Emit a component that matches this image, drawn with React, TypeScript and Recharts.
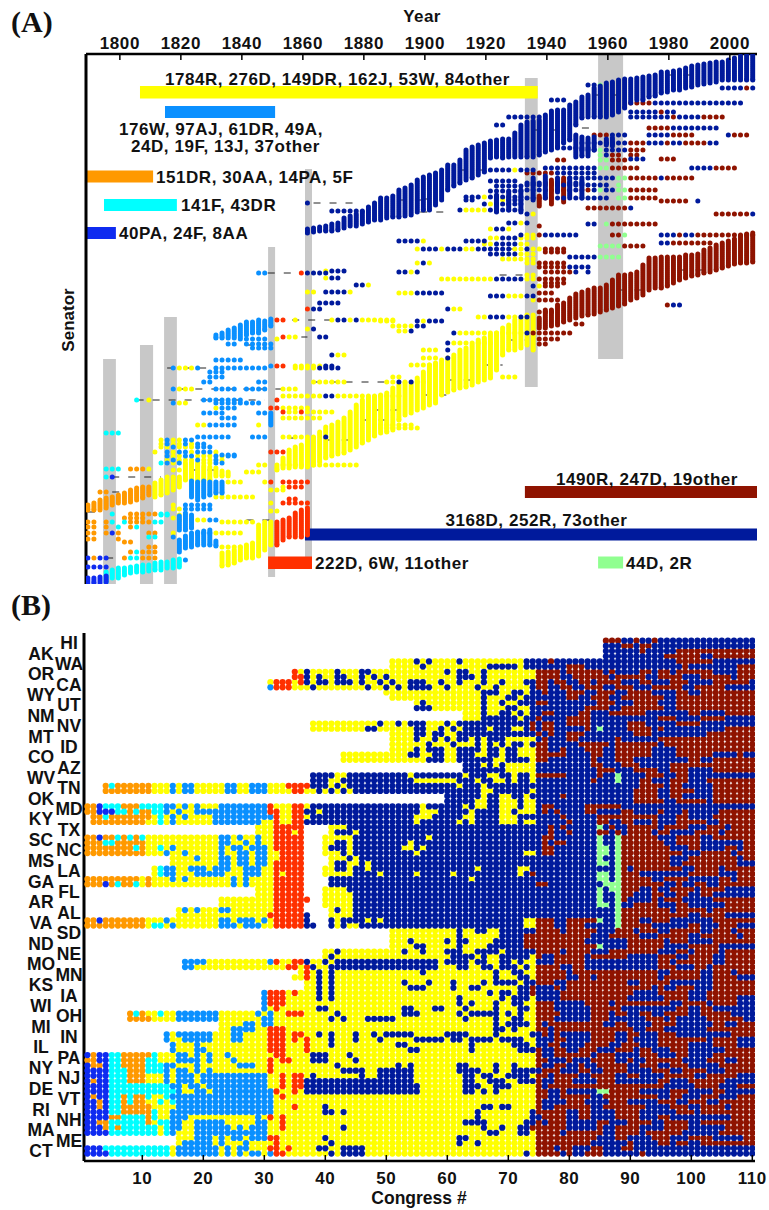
import React from "react";
import { ScatterChart, Scatter, XAxis, YAxis, ReferenceArea, ReferenceLine } from "recharts";

const FONT = "'Liberation Sans', Arial, sans-serif";
const COLORS: Record<string, string> = {
  o: "#ff9900", c: "#00ffff", P: "#0f2bf0", w: "#0a90ff", y: "#ffff00",
  r: "#ff3000", d: "#001a9c", b: "#8f1300", g: "#90ff90",
};
const ORDER_A = ["y", "w", "o", "c", "P", "r", "g", "b", "d"];
const ORDER_B = ["y", "o", "c", "w", "P", "r", "g", "b", "d"];

const yearTicks = [1800, 1820, 1840, 1860, 1880, 1900, 1920, 1940, 1960, 1980, 2000];
const congressTicks = [10, 20, 30, 40, 50, 60, 70, 80, 90, 100, 110];

// Panel B: states, top to bottom (two rows each)
const states = ["HI","AK","WA","OR","CA","WY","UT","NM","NV","MT","ID","CO","AZ","WV","TN","OK","MD","KY","TX","SC","NC","MS","LA","GA","FL","AR","AL","VA","SD","ND","NE","MO","MN","KS","IA","WI","OH","MI","IN","IL","PA","NY","NJ","DE","VT","RI","NH","MA","ME","CT"];

// Each token: party letter + first congress of that party's run; "." is an empty seat
const seatRows = [
"b86 d89 b91 d92 b94 d95",
"d86 b89 d91 b92 d94",
"d86 b92 d93 b98",
"d86 b96 d102 b104",
"y51 d55 y56 d57 y58 d62 y63 d73 b77 d78 b98 d104",
"y51 d56 y57 d67 y72 d73 b80 d83 b99 d100 b108",
"r35 y36 d37 y38 d42 y43 d46 y48 d60 y61 d62 y64 d66 y67 b75 d79 b80 d86 b87 d88 b92 d94 b95 d97 b98 d104 b108",
"r35 d37 y38 d39 y40 d42 y44 d46 y47 d48 y49 d50 y51 d62 y65 d66 y67 b75 d79 b81 d87 b88 d93 b95 d99 b102 d107 b108",
"y31 r32 y35 r36 d37 y38 d39 y41 d42 y45 d46 y47 d49 y50 d51 y52 d54 y57 d59 y60 d62 y63 d66 y67 d69 y70 d73 b75 d77 b78 d80 b82 d84 b85 d89 b92 d94 b97 d100 b104 d110",
"w31 r32 y35 d38 y39 d47 y48 d50 y51 d52 y53 d54 y58 d60 y61 d65 y66 d68 y69 d74 b75 d77 b79 d81 b83 d86 b88 d91 b94 d99 b101 d106",
"y50 d66 y69 d71 y73 d74 b76 d77 b80 d83 b85 d88 b90 d94 b98 d100 b102",
"y51 d66 y67 d70 y72 d73 b80 d82 b84 d87 b89 d96 b98",
"y55 d56 y57 d66 y67 d69 y70 d72 b75 d77 b85 d88 b91 d95 b98",
"d55 y58 d66 y67 d70 y72 d74 b83 d87 b89 d96 b98",
"y63 d66 y67 d69 y71 d72 y73 d74 b76 d78 b82 d84 b87 d93 b100 d102 b106",
"y63 d66 y72 d73 b75 d76 b80 d84 b95 d98 b102 d106",
"y38 d49 y50 d52 y53 d54 y57 d60 y61 d62 b74 d75 b76 d78 b80 d84 b90 d93 b98 d102",
"y38 d47 y49 d55 y57 d59 y60 d61 y62 d63 y67 d68 y71 d73 b74 d75 b76 d78 b83 d84 g85 d86 b90 d94 b95 d96 b106",
"y51 d55 y57 d58 y60 d62 b75 d76 b77 d78 b80 d83 b91 d94 b103",
"y51 d55 y56 d58 y59 d60 y61 d62 y64 d65 y66 d67 y70 d75 b76 d77 b80 d82 b88 d89 b95",
"y51 d57 y58 d61 y62 d65 y66 d67 y68 d69 y70 d71 y73 d74 b75 d77 b82 d87 b88 d95 b96",
"y51 d55 y56 d57 y60 d62 y66 d67 y69 d70 y72 d75 b75 d77 b79 d80 b83 d86 b88 d94 b98",
"y43 d54 y56 d58 y60 d62 y65 d67 y69 d70 y72 b75 d78 b78 d80 b84 d86 b88 d94 b98 d104 b108 d109",
"y43 d57 y60 d62 y68 d70 y74 b75 d77 b84 d85 b88 d91 b100 d102 b104",
"d63 y66 d67 y68 d69 y70 d75 b84 d86 b89 d92 b97",
"d63 y70 d75 b85 d88 b91 d95 b97 d100 b104",
"d38 y42 d44 y54 d55 y63 d64 y67 d69 y71 d72 y74 b75 d80 b85 d86 g88 d89 b93 d96 b98 d100",
"d38 y41 d43 y55 d62 y65 d66 y68 d70 y71 d72 y74 d75 b84 d85 g88 d89 b92 d94 b97 d100 b103",
"o4 c5 o6 y12 w15 y16 w17 y19 w24 y26 w28 y31 r34 d38 y41 d42 y43 d44 y62 d63 y66 d67 b92 d96 b97 d99 b104",
"o4 y12 w15 y16 w17 y19 w24 y26 w28 y31 r35 y37 d39 y40 d41 y42 d43 y44 d45 y66 d68 y74 d75 b91 d95 b97 d101 b104",
"d60 y66 d67 y69 d71 y73 d74 b79 d80 b91 d95 b97 d99 b104",
"d60 y65 d67 y69 d72 y73 d75 b91 d96 b98 d103 b104",
"o1 P3 c4 o7 c10 w14 y16 w17 y18 w19 y20 w23 r31 y32 r35 y37 d38 y56 d57 y63 d64 y65 d67 y69 d72 y73 d75 b76 d78 b83 d89",
"o1 P3 c6 o8 c9 o10 c12 w14 y15 w16 y17 w19 r31 y33 r35 d37 y39 d40 y56 d59 y64 d65 y69 d71 y72 d75 b76 d77 b78 d79 b83 d85 b89 d91 b95 d96 b99 d100 b105",
"o2 c4 o5 y12 c13 y14 w15 y16 w17 y18 w22 r32 y33 r35 y37 d38 y55 d58 y63 d65 y69 d72 b79 d80 b85 d95 b98 d100 b104",
"o2 y11 c13 y14 w15 y16 w22 y30 r32 y33 r35 d37 y55 d56 y62 d63 y64 d65 y69 d72 y73 d75 b80 d81 b85 d87 b89 d91 b94 d95 b98 d103 b105",
"y29 r32 .37 y41 d44 b77 d78 b79 d80 g85 d86 b87 d88 b90 d95 b96 d100 b103 d106 b107",
"y29 r32 y35 r36 .37 y41 d42 y45 d46 b77 d78 b80 d81 b85 d87 b88 d89 b90 d94 b95 d97 b101 d105 b106",
"o1 P3 o4 c6 o7 c8 o9 c10 y11 w23 y25 w26 y27 w29 y30 r32 .37 y40 d45 y57 d58 b76 d78 g85 d86 g88 b89 d95 b98 d102 b104",
"o1 c4 o6 y11 w23 y25 w27 y28 w29 y30 r32 .37 y40 d42 y44 d45 y54 d55 b76 d77 b78 d80 g85 d86 g88 b89 d96 b98 d102 b109",
"o1 c9 o10 y11 c13 y14 w15 y16 w23 y24 w25 y27 w28 y31 r32 .37 y40 d41 y44 d45 y53 d55 y56 d57 b76 d78 g85 d87 g88 b89 d97 b100 d102 b106 d108 b109",
"o1 y11 w14 y15 w17 y18 w23 y24 w26 y28 w29 y31 r33 .37 y40 d43 y44 d45 y55 d56 y73 d75 b76 d78 g85 d87 g88 b89 d99 b102 d107 b108",
"y15 w19 y20 w23 y25 w26 y28 w29 y31 r33 .37 y41 d44 y45 d46 g85 d86 g88 b89 d97 b100 d108 b109",
"y15 w23 y25 w26 y28 w29 y31 r32 y33 r33 .37 y41 d42 y44 d46 y47 d48 g85 d87 g88 b89 d97 b99 d108",
"y12 c13 w14 y16 w18 y19 w19 y21 w22 y24 w24 y25 w27 y28 w28 y30 r32 y33 r33 .37 y40 d42 y44 d45 y47 d48 y65 d66 y72 d74 g88 b89 d90 b91 d99 b101 d105 b106",
"y12 c13 w14 y16 w19 y22 w22 y24 w27 y30 r32 y33 r34 .37 y40 d45 y49 d50 y55 d56 y61 d62 y72 d73 b74 d75 g85 d87 g88 b89 d92 b100 d105 b108",
"o1 y10 o11 y12 w15 y16 w17 y18 w25 y26 w27 y28 r32 .37 d41 y64 d65 g85 d87 g88 b89 d94 b96 d100 b105 d107 b108",
"o1 P4 o5 c6 o7 c9 y10 o11 y12 w25 y26 w27 y28 r32 .37 d41 b75 d77 g86 g88 b89 d96 b98 d99 b101 d103 b105",
"y29 r32 .37 y40 d44 g85 d86 g87 b89 d92 b94 d95 b97 d101 b102 d106",
"y29 r32 .37 y40 d45 g85 d86 g88 b89 d91 b94 d96 b98 d100 b102 d104",
"y23 r32 .37 r37 .38 y40 d45 g85 d86 g88 b89 d90 b94 d95 b96 d99 b104",
"y23 r32 .37 y40 d45 g85 d87 g88 d89 b91 d95 b98 d100 b106",
"y16 w17 y18 w19 y20 w23 y25 r32 .37 y41 d42 y43 d45 g88 b89 d97 b98 d103 b104",
"y16 r31 y32 r32 d37 .38 y41 d45 g88 b89 d100 b102 d106",
"o1 P3 o4 y11 w14 y15 w23 y25 w26 y29 w30 y31 r32 d37 .38 d41 y42 d43 y47 d48 y49 d50 y73 b75 d78 b80 g85 d86 g88 b89 d92 b94 d97 b104",
"o1 y11 c12 y14 w15 y16 w23 y26 w27 y29 w29 y30 r32 d37 .39 d41 y42 d43 y44 d46 y73 b75 d78 b80 d83 g88 b89 d94 b100 d102 b105 d108",
"y51 d62 y63 d65 y67 d69 b75 d79 b80 d85 b88 d91 b92 d95 b97 d102 b104 d107 b108",
"y51 d62 y63 d69 b73 b78 d84 b87 d92 b95 d100 b102 d108 b109",
"y51 d54 y55 d60 y61 d62 y64 d68 b73 d83 b90 d96 b97 d100 b104",
"y51 d55 y57 d62 y63 d67 b73 d85 g85 d86 b90 d96 b100 d105",
"y40 d42 y43 d53 y54 d56 y57 d60 y63 d65 y69 d70 b75 d79 b80 d84 b87 d95 b98 d100 b101 d105 b106",
"y40 d41 y42 d61 y65 d66 y67 d69 y74 b75 d76 b78 d83 b84 d90 b95 d98 b100 d104 b106",
"w17 y21 w31 r32 y33 r35 d37 y38 d40 y41 d42 y59 d60 y64 d65 y67 d69 y71 d72 y73 d75 b78 d83 b95 d97 b98 d104 b106",
"w17 y19 r34 y36 r37 d38 y39 d41 d42 y59 d62 y64 d66 y68 d69 y72 d73 y74 b75 d79 b81 d83 b95 d98 b101 d103 b104",
"y36 r37 y38 d39 y40 d41 y42 d56 y57 d68 y69 d71 y73 b75 d80 b81 d95 b97 d102 b104 d107 b108",
"y35 r37 y38 d39 y40 d41 y42 d68 y69 d72 y74 b75 d80 b82 d84 b85 d95 b96 d102 b104 d108",
"y37 d39 y40 d41 y42 d53 y54 d57 y58 d61 y62 d66 y67 d68 y72 d73 b75 d78 b80 d90 b92 d97 b101 d101 b104",
"y37 d39 y40 d41 y42 d54 y57 d61 y62 d64 y66 d72 b74 d75 b78 d79 b80 d94 b95 d96 b98 d101 b104",
"w30 r31 y34 r35 y36 d39 y40 d41 y42 d67 y68 d69 y71 d72 b74 d75 b79 d91 b95 d100 b103",
"w30 r31 y34 d39 y40 d41 y42 d62 y63 d69 y70 d71 y74 d75 b79 d90 b96 d100 b103 d108",
"w30 r31 y34 d62 y63 d64 y65 d68 y69 d71 y73 b75 d78 b83 d87 b88 d97 b99 d103 b104 d108",
"w30 y31 r32 y33 d39 y41 d53 y55 d58 y60 d63 y64 d68 y69 d72 y74 b75 d78 b84 d89 b98 d100 b102 d104",
"o8 c9 o10 y11 c13 y14 w16 y23 w29 y30 w31 y32 r34 y37 d42 y43 d53 y56 d62 y63 d64 y69 d70 y71 d72 y73 b75 d79 b84 d87 b88 d90 b92 d94 b96 d100 b102 d107",
"o8 y12 w16 y23 w30 y32 d41 y42 d43 y44 d47 y52 d63 y64 d68 y69 d71 y73 b75 d78 b84 d87 b93 d96 b97 d98 b103 d109",
"y23 w27 y29 w30 y32 d68 y69 d70 y74 b75 d76 b77 d86 b88 d90 b94 d98 b104 d106 b108",
"y23 w25 y29 r31 y34 d68 y70 d71 y72 b75 d77 b78 d91 b93 d96 b103",
"w14 y15 w16 y22 w25 y27 r31 y34 r35 y37 d39 y40 d41 y42 d45 y46 d48 y49 d50 y55 d60 y64 d68 y69 d74 b76 d77 b78 d79 b84 d88 b90 d92 b95 d98 b107",
"w14 y15 w17 y22 w25 y27 r31 y34 r35 y36 r37 y38 d41 y42 d45 y46 d49 y50 d55 y60 d61 y63 d64 y68 d69 y73 d75 b78 d80 b84 d88 b90 d91 b95 d103 b104 d108",
"w15 y16 w19 y20 r31 y34 r37 y38 d41 y42 d52 y54 d64 y65 d71 y74 d75 b77 d79 b83 d87 b89 d92 b95 d100 b104 d108",
"w15 y16 w19 y21 r31 y34 r37 y38 d54 y56 d64 y65 d72 b75 d76 b78 d80 b82 d85 b88 d91 b92 d94 b97 d100 b106",
"P1 o2 P3 c5 o7 c12 y13 w16 y18 w19 y20 w21 y22 w24 y25 r32 y34 d38 y41 d44 y45 b75 d76 b78 d84 b85 d88 b92 d95 b98 d100 b104",
"o1 P3 c5 o7 c11 y13 w16 y19 w19 y20 w21 y22 w25 y26 r31 y32 r33 y35 d38 y41 d45 y46 b75 d77 b80 d81 b84 d88 b90 d91 b93 d99 b103 d106 b108",
"P1 o2 P4 c5 o7 c11 w14 y16 w19 y20 w26 y27 w27 y29 r31 y32 d42 y43 d52 y53 d54 y55 d62 y64 d68 y69 d71 y72 b75 d76 b78 d80 b82 d83 b85 d90 b92 d95 b97 d100 b105",
"P1 c5 o8 c11 w14 y15 w16 y18 w19 y20 w21 y22 r31 y32 d43 y47 d49 y55 d62 y66 d68 y69 d71 b76 d79 b82 d84 b86 d90 b94 d97 b99 d103 b106",
"P1 c5 o8 y11 w14 y15 w16 y19 w20 y31 r33 y34 r35 y37 d38 y39 d46 y47 d49 y50 d50 y55 d63 y65 d66 y68 d70 y74 b75 d77 b78 d82 b84 d88 b90 d92 b96 d101 b103 d108",
"P1 o2 P3 c5 o8 y11 w14 y15 w16 y19 w20 y31 r33 y34 r35 d37 y55 d63 y65 d67 y70 d72 b75 d76 b78 d81 b85 d88 b95 d97 b100 d106",
"P1 c5 w15 y17 w18 y20 w21 y31 r33 y34 r35 d37 y56 d63 y66 d68 y71 b75 d76 b77 b93 d96 b101 d105 b108",
"P1 c5 w16 y17 w19 y21 w22 r32 y33 r35 y36 d37 y56 d63 y65 d66 y67 d68 y69 b75 d77 b79 d80 g85 b87 d92 b97 d100 b104 d106",
"P1 o2 P3 c5 o7 c8 o9 c11 y12 c14 w15 y32 r33 y34 b75 d77 b79 d84 b86 d95 b97 d99 b102 d105 b108",
"P1 o3 P4 c5 o7 c8 o9 y11 c13 y14 c15 w16 y32 b75 d76 b80 d83 b87 d90 b95 d98 b100 d103 b105",
"P1 o3 P4 c5 o7 y12 w16 y32 r35 y36 d40 y41 d66 y68 d69 y71 b75 d76 b78 d84 b86 d93 b97 d100 b102 d106 b107",
"P1 c5 o7 c12 y13 w15 y32 d40 y42 d43 y44 d65 y66 d74 b75 d80 b82 d84 b88 d92 b98 d101 b102",
"P1 o5 c7 o11 c12 y13 w15 y18 w29 y30 r31 y32 r33 y34 d65 y66 d74 b76 d80 b82 d84 b88 d92 b95 d97 b107",
"P1 o3 c5 o11 y12 c13 w15 y17 w19 y24 w29 y31 r33 y34 d63 y67 d73 b75 d76 b77 d80 b85 d87 b90 d94 b96 d100 b102",
"P1 o4 c5 o6 c7 y13 c14 w15 y17 w19 y25 w26 y27 w28 y31 r33 y34 d43 y44 d66 y67 d69 y70 d72 b74 d80 b85 d86 b88 d92 b96 d100 b106",
"P1 c5 y13 c14 w15 y16 w19 y31 d67 y69 d72 y74 b75 d79 b80 d86 b88 d92 b93 d99 b105",
"y16 w19 y22 w23 y24 w25 y27 w28 r31 y33 d40 y41 d62 y64 b75 d85 b88 d90 b94 d97 b100 d104 b109",
"y16 w17 y22 w23 y24 y26 w27 y28 y31 r32 y33 d41 y42 d62 y63 d65 y66 b75 d84 b90 d91 b95 d97 b98 d100 b102",
"P1 c4 y15 w16 y23 w24 y25 w26 y28 r31 y33 r34 y35 d39 y41 d43 y47 b75 d78 b79 d81 b84 d86 b89 d91",
"P1 c5 y15 w16 y23 w24 y25 w26 y27 w28 y30 w31 r32 y34 d41 y42 d43 y47 d73 y74 b75 d79 b80 d81 b83 d86 b92 d93",
];

// Panel A: solid columns of senators per congress: [congress, first rank, last rank]
const navyBand = [[37,229,233],[38,228,232],[39,227,231],[40,226,231],[41,224,231],[42,223,230],[43,218,228],[44,216,226],[45,214,226],[46,212,224],[47,207,222],[48,203,220],[49,198,220],[50,198,218],[51,196,217],[52,190,217],[53,188,216],[54,185,215],[55,180,212],[56,177,210],[57,175,210],[58,173,205],[59,170,200],[60,165,190],[61,165,186],[62,160,183],[63,150,180],[64,147,178],[65,145,175],[66,143,172],[67,141,158],[68,140,157],[69,139,158],[70,139,157],[71,133,157],[72,125,157],[73,122,157],[74,121,157],[75,120,155],[76,115,152],[77,111,150],[78,110,147],[79,110,143],[80,105,140],[81,102,125],[82,97,118],[83,95,117],[84,88,117],[85,86,117],[86,83,117],[87,82,115],[88,80,112],[89,79,108],[90,79,103],[91,78,100],[92,77,100],[93,76,97],[94,75,96],[95,72,93],[96,72,92],[97,71,90],[98,70,90],[99,68,88],[100,66,87],[101,65,85],[102,64,84],[103,63,83],[104,62,82],[105,62,80],[106,60,80],[107,58,80],[108,56,80],[109,55,80],[110,53,80],[81,135,157],[82,137,156],[83,138,156],[84,137,150],[86,139,145],[87,138,146],[68,195,212],[70,192,210],[72,190,212],[74,178,200],[76,176,198],[78,178,192],[80,178,196],[82,180,198]];
const maroonBand = [[75,318,328],[76,310,328],[77,310,326],[78,305,325],[79,303,322],[80,298,320],[81,294,318],[82,292,316],[83,290,315],[84,288,314],[85,288,312],[86,285,310],[87,280,308],[88,275,306],[89,275,304],[90,274,300],[91,272,298],[92,265,295],[93,258,290],[94,258,288],[95,257,288],[96,257,286],[97,257,283],[98,257,280],[99,255,278],[100,255,276],[101,254,275],[102,250,273],[103,248,272],[104,245,270],[105,243,268],[106,241,266],[107,239,264],[108,236,263],[109,234,263],[110,233,262],[77,180,204],[79,178,202],[75,196,206]];
const yellowBand = [[32,465,470],[33,458,468],[34,450,468],[35,447,467],[36,445,467],[37,440,467],[38,437,465],[39,432,462],[40,427,458],[41,425,456],[42,422,454],[43,418,453],[44,412,450],[45,405,447],[46,400,443],[47,398,440],[48,397,436],[49,395,433],[50,393,432],[51,388,430],[52,385,420],[53,383,415],[54,383,413],[55,378,410],[56,372,408],[57,365,405],[58,363,403],[59,360,395],[60,358,392],[61,355,390],[62,350,388],[63,348,387],[64,345,385],[65,340,382],[66,338,380],[67,335,378],[68,333,370],[69,328,355],[70,325,350],[71,320,350],[72,318,348],[73,315,345],[74,315,350],[12,483,497],[13,480,495],[14,480,493],[15,478,490],[16,477,487],[17,465,480],[18,463,480],[19,465,482],[20,466,480],[21,467,480],[22,468,476],[23,471,476],[24,472,476],[23,553,566],[24,552,565],[25,550,563],[26,547,560],[27,545,558],[28,543,558],[29,525,556],[30,522,550],[31,522,545]];
const redBand = [[32,522,545],[33,520,540],[34,518,537],[35,513,537],[36,510,537],[37,508,535]];
const cyanBand = [[4,572,582],[5,570,578],[6,568,578],[7,568,575],[8,567,573],[9,566,572],[10,565,572],[11,565,571],[12,563,570],[13,562,570],[14,562,568],[15,560,568],[16,559,567]];
const orangeBand = [[1,505,510],[2,503,510],[3,500,510],[4,498,508],[5,497,505],[6,495,503],[7,493,503],[8,490,502],[9,488,500],[10,487,498],[11,487,495]];
const whigBand = [[22,335,338],[23,333,338],[24,330,338],[25,328,338],[26,325,337],[27,322,335],[28,322,333],[29,320,333],[30,321,330],[31,319,326],[18,481,497],[19,482,500],[20,481,497],[21,482,495],[22,482,493],[23,482,493],[16,540,552],[17,536,548],[18,535,547],[19,532,545],[20,531,545],[21,530,545],[22,541,546],[16,516,530],[17,513,530],[18,515,528],[31,413,425]];
const paBand = [[1,578,584],[2,578,583],[3,577,583],[4,576,582]];

// Panel A: individual senators: [rank, runs of party by congress]
const senatorRows: [number, string][] = [
[85,"d83 g85 .86"],[100,"d77 .80"],[117,"d70 .76"],[125,"d68 .70"],[88,"d105 b109 d110"],[103,"b90 d94 .109"],[112,"d90 b95 d96 .98"],[117,"d90 b97 d98 b102 .106"],[128,"b93 d97 .105"],[135,"b84 d87 .90 d93 b97 .101 d106 b107 .110"],[143,"d82 b90 d93 b96 d97 b99 d103 .105"],[150,"d82 g85 d86 b90 .93"],[155,"g85 d86 b87 .89 b90 .92"],[159,"d90 .93 b95 .98"],[168,"d76 .85 g85 b87 .92 d100 b104 .108"],[170,"d67 y71 .72 d72 .75"],[173,"b73 .78 d78 .85"],[178,"d80 .88 g88 b90 d95 b96 .101"],[185,"d73 b76 d79 .87 g88 .89"],[190,"d73 b76 d80 b82 d84 g85 d86 g88 b90 .95"],[183,"d73 b76 d80 .83"],[181,"d67 .72"],[198,"d73 b75 d78 .87 g88 b90 .95"],[197,"d63 y66 d67 .73"],[201,"b95 .100 d101 .102"],[208,"b83 d90 .91"],[210,"d62 y63 d67 .73"],[214,"b104 d110"],[214,"d73 y74 .75"],[224,"d83 .85 g86 b87 .95"],[223,"d70 y72 d73 .74"],[229,"y67 d68 y70 .71"],[226,"b75 .76"],[238,"y67 d69 y72 .75"],[235,"d72 y73 b75 d76 .82 b87 g89 .90 d95 b98 d99 b101"],[241,"d52 y56 .57 d63 .67"],[243,"d95 b97 .104"],[246,"g85 b89 .93"],[249,"y55 d56 y59 d60 y63 d65 y71 d73 y74 b76 .80"],[254,"d67 y72 .75"],[257,"d80 .83 d83 .85 g85 .89"],[263,"y55 d56 y57 .58 y73 b75 .80"],[267,"b75 d80 .84"],[272,"d52 y54 d55 .56 b76 d81 .82 d83 .84"],[279,"y59 d68 y73 b75 .80"],[293,"y52 d55 .60 b75 .78"],[296,"d67 y70 d73 .75"],
[191,"d67 .73"],[204,"d66 y67 d68 .73"],[186,"d68 .73"],[200,"d63 .65 y68 d70 .73"],[244,"y66 d68 y72 .74"],[259,"y69 y72 .75"],[283,"b76 .80"],[286,"b76 .79 d74 y75 .76"],[300,"b75 .79 y74 .75"],[275,"y73 .75"],[252,"b76 .80"],[312,"b75 .78"],[148,"d78 .84"],[160,"b78 .80 g85 b87 .90"],
[309,"d60 y61 .63"],[317,"y65 d67 .70 y70 d72 .74"],[321,"y49 .52 d55 y56 d57 .60"],[326,"y51 d55 .57"],[331,"y52 d54 .55"],[333,"d61 y62 d73 b74 .81"],[339,"b75 .79"],[344,"b75 .77"],[324,"b81 .83"],[343,"d60 y61 .68"],[350,"y56 .59 d60 .61"],[358,"y56 .59 d60 .61"],[365,"y54 .59"],[382,"y50 d52 y53 d54 y55 .57"],[377,"y51 .53 y69 .72"],[425,"y49 .55"],[428,"y49 .56"],[305,"b96 d97 .99"],
[203,"d37 .38"],[211,"d41 .47"],[273,"w29 .31 r36 d37 .41"],[271,"y40 d41 .44"],[278,"y40 d41 .43"],[292,"y37 .39 d40 y44 .45"],[285,"d45 y47 .48"],
[303,"d39 .43"],[309,"r37 d38 .40"],[320,"r32 .34 y35 .36 y41 d42 .44 y44 d45 y46 .52"],[329,"y37 d38 .39"],[337,"r33 y34 .36 d39 .41"],[339,"w26 .31 y32 .33"],[344,"w24 .26 w27 .32"],[348,"w28 .32"],[355,"d41 y42 .44"],[360,"w22 .27"],[366,"w31 r32 .34 y35 .40 d40 .42"],[368,"w15 y16 .19 w19 .20 w22 .31 y35 .39 d39 .43"],[372,"w21 .24"],[377,"w21 .24"],[382,"w20 .22 w29 .31 y38 .44"],[389,"w15 y16 .19 w22 .26 w27 .31 y33 .36"],[396,"y33 .40 d40 y42 .53"],[400,"c9 .10 y11 .12 w20 .27 r32 .33"],[403,"w15 y16 .18 w22 .30"],[408,"y22 w23 .26 r31 .33 y33 .38"],[412,"r33 y34 r36 y37 .42"],[413,"w20 .24 w29 .31"],[418,"w23 .26 y33 .40"],[425,"y19 w21 .26 y29 .30"],[433,"c4 .7"],[437,"w19 .25 w28 .31 y33 .38 d40 .41"],[452,"r31 .34"],[455,"w23 .26"],[465,"y29 .31 y33 .46"],[469,"c4 .7 o8 y11 .12"],[477,"c4 P5 .6 y14 .16"],[472,"y27 .30"],[482,"y24 .27 y30 r31 .32 r33 .38"],[487,"y33 r34 .37"],[490,"y31 .34"],[492,"o3 .5"],[497,"y22 .29"],[503,"y31 .32 r33 .38"],[499,"r34 .36"],[511,"y31 .33"],
[440,"y13 w14 y15 w17 .19"],[444,"y13 w14 y15 w17 y18 w19 .21"],[447,"y13 w15 y16 w19 .22"],[452,"y12 .13 w14 y15 w16 y18 w19 y22 .23"],[456,"w14 y15 w17 y19 w22 y23 w24 .26"],[460,"y14 w15 y16 w19 y20 w22 y23 .24"],[463,"c13 w14 y15 w16 y17 w22 .24"],[470,"y15 .17"],[505,"w17 .22 y15 .16"],[509,"y15 y16 .17 w17 .22"],[533,"w18 .22 y22 .27"],[520,"y16 .17 w18 y19 w21 .23"],[515,"c13 .15 y16 .17"],
[514,"c5 .6 o8 .13 c13 .15"],[518,"o7 .11 y15 .16"],[522,"o1 .3 o4 c5 .6 c7 o8 .11 o11 c12 .14 y23 .29"],[527,"o1 .3 o4 .5 c6 .7 o8 .9 c9 .10"],[533,"o1 .3 o4 P5 o6 .7 o11 .13 y15 .16"],[539,"o1 .3 o6 .7"],[542,"o7 .9"],[547,"o11 .13 y23 .27"],[552,"o8 c9 o10 .13"],[558,"P1 o2 P3 .5 o7 .8 c8 o10 .13"],[567,"P1 .5"],[560,"w17 .18"],[537,"c11 .13 w15 .16"],
];

// Panel A: thin connectors: [rank, first congress, last congress]
const connectors = [[203,38,44.5],[273,30.5,35],[320,34.5,41],[337,36,37],[368,14,22],[382,38,50],[389,16,34],[400,9,30],[477,5,13],[492,5,7],[512,1,3],[558,4,7],[128,82,84],[212,55.5,59.5],[199,56,58],[275,68.5,72.5],[249,70,73],[345,27,30],[438,34,36],[520,27,31],[470,18,22],[410,48,52],[395,56,60],[380,60,64],[365,66,69],[340,70,73],[440,40,44],[420,46,50],[200,52,56],[170,62,66],[130,74,78],[95,84,88],[75,96,100],[290,88,92],[270,98,102]];

// Panel A: periods of high polarization and cluster spans, in years and ranks
const grayBars = [[1794.5,1798.7,359,584],[1806.6,1810.9,345,584],[1814.5,1818.7,317,584],[1848.6,1850.9,247,577],[1860.7,1863,169,568],[1932.8,1937,78,387],[1956.8,1965,54,359]];
const clusterBars: [number, number, number, number, string][] = [
[1806.6,1937,86,98.5,"y"],[1814.8,1850.9,106,118,"w"],[1788.9,1810.9,170.5,182.5,"o"],[1794.8,1818.7,199,211,"c"],[1788.9,1798.7,227,239,"P"],[1848.6,1863,556.5,569,"r"],[1860.7,2008.9,528.5,540.5,"d"],[1932.8,2008.9,486,498,"b"],[1956.8,1965,556.5,568.5,"g"],
];
const clusterLabels: [string, number, number][] = [
["1784R, 276D, 149DR, 162J, 53W, 84other",165,85],
["176W, 97AJ, 61DR, 49A,",119,134.5],
["24D, 19F, 13J, 37other",131,151.5],
["151DR, 30AA, 14PA, 5F",156,182.5],
["141F, 43DR",181,210.5],
["40PA, 24F, 8AA",119,238.5],
["222D, 6W, 11other",315,568.5],
["3168D, 252R, 73other",445.5,526],
["1490R, 247D, 19other",556,484.5],
["44D, 2R",626,568.5],
];

function runs(tokens: string): { n: number; c: string }[] {
  const parts = tokens.trim().split(/\s+/).map((t) => ({ c: t[0], n: Number(t.slice(1)) }));
  const out: { n: number; c: string }[] = [];
  parts.forEach((p, i) => {
    const end = i + 1 < parts.length ? parts[i + 1].n : 111;
    if (p.c !== ".") for (let n = p.n; n < end; n++) out.push({ n, c: p.c });
  });
  return out;
}
const yearOf = (n: number) => 1789.5 + 2 * (n - 1);

const seatPoints: Record<string, { x: number; y: number }[]> = {};
seatRows.forEach((row, k) =>
  runs(row).forEach(({ n, c }) => {
    (seatPoints[c] = seatPoints[c] || []).push({ x: n, y: k });
  })
);

const senatorPoints: Record<string, { x: number; y: number }[]> = {};
const addSen = (c: string, n: number, y: number) => {
  (senatorPoints[c] = senatorPoints[c] || []).push({ x: yearOf(n), y });
};
([["d", navyBand], ["b", maroonBand], ["y", yellowBand], ["r", redBand], ["c", cyanBand], ["o", orangeBand], ["w", whigBand], ["P", paBand]] as [string, number[][]][]).forEach(([c, band]) =>
  band.forEach(([n, a, b]) => {
    for (let y = a; y < b; y += 2) addSen(c, n, y);
    addSen(c, n, b);
  })
);
senatorRows.forEach(([y, row]) => runs(row).forEach(({ n, c }) => addSen(c, n, y)));

const dot = (r: number) => (p: any) => <circle cx={p.cx} cy={p.cy} r={r} fill={p.fill} />;
const dotA = dot(2.5);
const dotB = dot(3.1);

const YearTick = (p: any) => (
  <g>
    <line x1={p.x} x2={p.x} y1={54} y2={60} stroke="#000" strokeWidth={1.5} />
    <text x={p.x} y={49} textAnchor="middle" fontFamily={FONT} fontWeight="bold" fontSize={17} letterSpacing={0.6} fill="#111">{p.payload.value}</text>
  </g>
);
const CongressTick = (p: any) => (
  <g>
    <line x1={p.x} x2={p.x} y1={541} y2={535} stroke="#000" strokeWidth={1.5} />
    <text x={p.x} y={564} textAnchor="middle" fontFamily={FONT} fontWeight="bold" fontSize={17} letterSpacing={0.6} fill="#111">{p.payload.value}</text>
  </g>
);
const StateTick = (p: any) => {
  const i = Math.round(p.payload.value - 0.5) / 2;
  const x = i % 2 === 0 ? 69 : 41;
  return (
    <text x={x} y={p.y + 6} textAnchor="middle" fontFamily={FONT} fontWeight="bold" fontSize={17.5} fill="#111">{states[i]}</text>
  );
};

export default function App() {
  return (
    <div style={{ position: "absolute", left: 0, top: 0, width: 769, height: 1210, background: "#fff", overflow: "hidden" }}>
      <div style={{ position: "absolute", left: 0, top: 0 }}>
        <ScatterChart width={769} height={600} margin={{ top: 24, right: 12, bottom: 16, left: 86 }}>
          <XAxis type="number" dataKey="x" orientation="top" xAxisId={0} domain={[1788.9, 2008.9]} ticks={yearTicks} interval={0} height={30} tickSize={0} tickMargin={0} tickLine={false} axisLine={{ stroke: "#000", strokeWidth: 2.5 }} tick={YearTick} allowDataOverflow />
          <YAxis type="number" dataKey="y" domain={[54, 584]} reversed hide allowDataOverflow />
          {grayBars.map((b, i) => (
            <ReferenceArea key={i} x1={b[0]} x2={b[1]} y1={b[2]} y2={b[3]} fill="#c8c8c8" fillOpacity={1} stroke="none" ifOverflow="hidden" />
          ))}
          {ORDER_A.map((c) => (
            <Scatter key={c} data={senatorPoints[c]} fill={COLORS[c]} shape={dotA} isAnimationActive={false} />
          ))}
          {connectors.map(([y, a, b], i) => (
            <ReferenceLine key={i} segment={[{ x: yearOf(a), y }, { x: yearOf(b), y }]} stroke="#222" strokeWidth={1} strokeDasharray="7 9" />
          ))}
          {clusterBars.map((b, i) => (
            <ReferenceArea key={"c" + i} x1={b[0]} x2={b[1]} y1={b[2]} y2={b[3]} fill={COLORS[b[4]]} fillOpacity={1} stroke="none" />
          ))}
          <ReferenceLine x={1788.9} stroke="#000" strokeWidth={3} />
        </ScatterChart>
      </div>
      <div style={{ position: "absolute", left: 0, top: 620 }}>
        <ScatterChart width={769} height={590} margin={{ top: 13, right: 14, bottom: 19, left: 0 }}>
          <XAxis type="number" dataKey="x" domain={[0.443, 110.443]} ticks={congressTicks} interval={0} height={30} tickSize={0} tickMargin={0} tickLine={false} axisLine={{ stroke: "#000", strokeWidth: 2.5 }} tick={CongressTick} allowDataOverflow />
          <YAxis type="number" dataKey="y" domain={[-1.486, 100.44]} reversed width={84} ticks={states.map((_, i) => i * 2 + 0.5)} interval={0} tickSize={0} tickLine={false} axisLine={{ stroke: "#000", strokeWidth: 3 }} tick={StateTick} allowDataOverflow />
          {ORDER_B.map((c) => (
            <Scatter key={c} data={seatPoints[c]} fill={COLORS[c]} shape={dotB} isAnimationActive={false} />
          ))}
        </ScatterChart>
      </div>
      <svg width={769} height={1210} style={{ position: "absolute", left: 0, top: 0, pointerEvents: "none" }}>
        <text x={11} y={32} fontFamily="'Liberation Serif', serif" fontWeight="bold" fontSize={30} fill="#111">(A)</text>
        <text x={11} y={615} fontFamily="'Liberation Serif', serif" fontWeight="bold" fontSize={30} fill="#111">(B)</text>
        <text x={422} y={22} textAnchor="middle" fontFamily={FONT} fontWeight="bold" fontSize={17} letterSpacing={0.4} fill="#111">Year</text>
        <text transform="translate(74,320) rotate(-90)" textAnchor="middle" fontFamily={FONT} fontWeight="bold" fontSize={17} fill="#111">Senator</text>
        <text x={419} y={1204} textAnchor="middle" fontFamily={FONT} fontWeight="bold" fontSize={17.5} fill="#111">Congress #</text>
        {clusterLabels.map(([t, x, y], i) => (
          <text key={i} x={x} y={y} fontFamily={FONT} fontWeight="bold" fontSize={17} letterSpacing={0.55} fill="#111">{t}</text>
        ))}
      </svg>
    </div>
  );
}
